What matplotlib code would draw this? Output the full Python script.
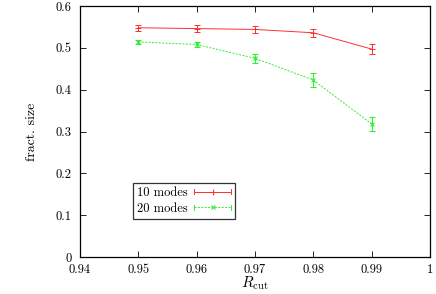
import matplotlib
matplotlib.use("Agg")
import matplotlib.pyplot as plt
from matplotlib.lines import Line2D
from matplotlib.legend_handler import HandlerBase

plt.rcParams['font.family'] = ['serif']
plt.rcParams['font.serif'] = ['cmr10', 'DejaVu Serif']
plt.rcParams['mathtext.fontset'] = 'cm'
plt.rcParams['axes.formatter.use_mathtext'] = True

r_cut = [0.95, 0.96, 0.97, 0.98, 0.99]
modes10 = [0.548, 0.546, 0.544, 0.536, 0.497]
err10 = [0.007, 0.008, 0.008, 0.009, 0.012]
modes20 = [0.514, 0.508, 0.475, 0.423, 0.318]
err20 = [0.004, 0.006, 0.011, 0.016, 0.016]

xticks = [0.94, 0.95, 0.96, 0.97, 0.98, 0.99, 1.0]
xticklabels = ['0.94', '0.95', '0.96', '0.97', '0.98', '0.99', '1']
yticks = [0, 0.1, 0.2, 0.3, 0.4, 0.5, 0.6]
yticklabels = ['0', '0.1', '0.2', '0.3', '0.4', '0.5', '0.6']

red = '#ff3030'
green = '#30ee30'
dash = (0, (2, 1.5))

fig = plt.figure(figsize=(4.36, 2.94), dpi=100)
ax = fig.add_axes([80/436, 1-257/294, 350/436, 251/294])

ax.errorbar(r_cut, modes10, yerr=err10, color=red, ecolor=red, lw=0.7, marker='+',
            ms=5, mew=0.7, capsize=2.5, elinewidth=0.7, capthick=0.7)
ax.errorbar(r_cut, modes20, yerr=err20, color=green, ecolor=green, lw=0.7, ls=dash,
            marker='x', ms=3.5, mew=0.8, capsize=2.5, elinewidth=0.7, capthick=0.7)


class KeyHandle:
    def __init__(self, color, ls, marker, ms):
        self.color, self.ls, self.marker, self.ms = color, ls, marker, ms


class KeyHandler(HandlerBase):
    def create_artists(self, legend, h, xdescent, ydescent, width, height, fontsize, trans):
        y = height / 2 - ydescent
        x0, x1 = -xdescent, width - xdescent
        arts = [Line2D([x0, x1], [y, y], color=h.color, lw=0.7, ls=h.ls, transform=trans)]
        cap = 2.0
        for x in (x0, x1):
            arts.append(Line2D([x, x], [y - cap, y + cap], color=h.color, lw=0.7, transform=trans))
        arts.append(Line2D([(x0 + x1) / 2], [y], color=h.color, marker=h.marker, ms=h.ms,
                           mew=0.8, ls='none', transform=trans))
        return arts


k10 = KeyHandle(red, '-', '+', 5)
k20 = KeyHandle(green, dash, 'x', 3.5)

ax.set_xlim(0.94, 1.0)
ax.set_ylim(0, 0.6)
ax.set_xticks(xticks)
ax.set_xticklabels(xticklabels)
ax.set_yticks(yticks)
ax.set_yticklabels(yticklabels)
ax.tick_params(direction='in', length=4, width=0.6, top=True, right=True, labelsize=9)
ax.tick_params(axis='x', pad=5)
ax.tick_params(axis='y', pad=6)
for s in ax.spines.values():
    s.set_linewidth(0.9)

ax.set_xlabel(r'$R_{\rm cut}$', fontsize=11, labelpad=-1)
ax.set_ylabel('fract. size', fontsize=10, labelpad=13)

leg = ax.legend([k10, k20], ['10 modes', '20 modes'],
                handler_map={KeyHandle: KeyHandler()},
                loc='upper left', bbox_to_anchor=((133-80)/350, (257-183)/251),
                markerfirst=False, fontsize=9, frameon=True, fancybox=False,
                handlelength=3.0, borderpad=0.3, labelspacing=0.3, handletextpad=0.5,
                borderaxespad=0)
leg.get_frame().set_edgecolor('black')
leg.get_frame().set_linewidth(0.9)

fig.savefig('out.png', dpi=100)
